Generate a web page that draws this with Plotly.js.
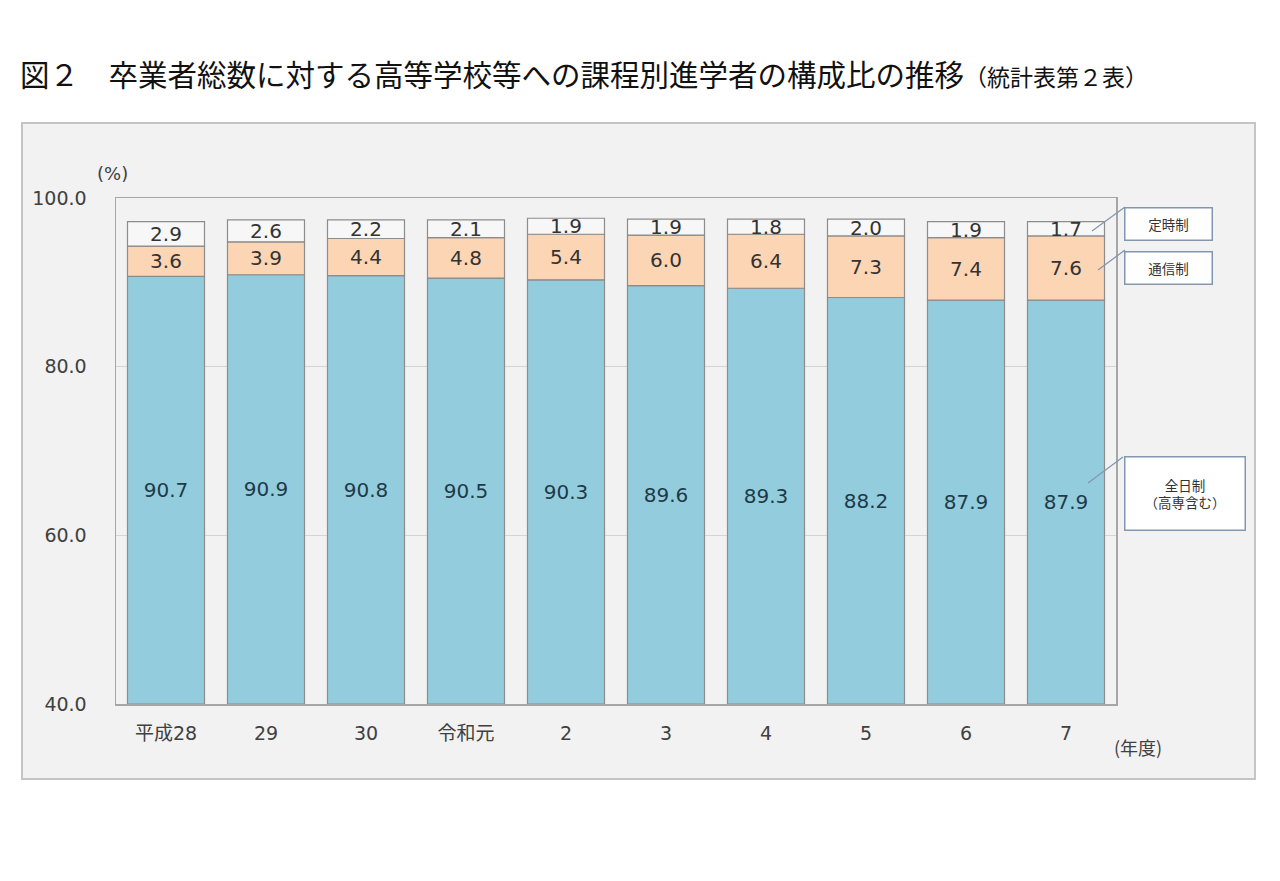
<!DOCTYPE html>
<html>
<head>
<meta charset="utf-8">
<script src="https://cdn.plot.ly/plotly-3.0.1.min.js"></script>
<style>
  html, body { margin: 0; padding: 0; background: #fff; }
  #chart { width: 1280px; height: 881px; }
</style>
</head>
<body>
<div id="chart"></div>
<script>
// 年度
var years = ['平成28', '29', '30', '令和元', '2', '3', '4', '5', '6', '7'];
// 全日制（高専含む）
var zennichi = [90.7, 90.9, 90.8, 90.5, 90.3, 89.6, 89.3, 88.2, 87.9, 87.9];
// 通信制
var tsushin = [3.6, 3.9, 4.4, 4.8, 5.4, 6.0, 6.4, 7.3, 7.4, 7.6];
// 定時制
var teiji = [2.9, 2.6, 2.2, 2.1, 1.9, 1.9, 1.8, 2.0, 1.9, 1.7];

var yTicks = [40, 60, 80, 100];
var FLOOR = 40; // bottom of the y axis, bars start here

var numFont = 'DejaVu Sans, Noto Sans CJK JP, sans-serif';
var jpFont = 'Noto Sans CJK JP, sans-serif';
var barLine = { color: '#8c8c8c', width: 1.2 };

function fmt(v) { return v.toFixed(1); }

// each segment gets its own base so the label sits in the visible part
var base2 = zennichi.slice();
var base3 = zennichi.map(function (v, i) { return v + tsushin[i]; });

var data = [
  {
    type: 'bar', name: '全日制（高専含む）', x: years,
    base: FLOOR, y: zennichi.map(function (v) { return v - FLOOR; }),
    text: zennichi.map(fmt), texttemplate: '%{text}',
    textposition: 'inside', insidetextanchor: 'middle', constraintext: 'none',
    textfont: { family: numFont, size: 20, color: '#1e3a48' },
    marker: { color: '#93cddd', line: barLine }
  },
  {
    type: 'bar', name: '通信制', x: years,
    base: base2, y: tsushin,
    text: tsushin.map(fmt), texttemplate: '%{text}',
    textposition: 'inside', insidetextanchor: 'middle', constraintext: 'none',
    textfont: { family: numFont, size: 20, color: '#333333' },
    marker: { color: '#fcd5b5', line: barLine }
  },
  {
    type: 'bar', name: '定時制', x: years,
    base: base3, y: teiji,
    text: teiji.map(fmt), texttemplate: '%{text}',
    textposition: 'inside', insidetextanchor: 'middle', constraintext: 'none',
    textfont: { family: numFont, size: 20, color: '#333333' },
    marker: { color: '#f7f7f7', line: barLine }
  }
];

// pixel -> paper helpers (plot area is 116..1116 x 198..704)
function px(x) { return (x - 116) / 1000; }
function py(y) { return (704 - y) / 506; }

var boxStyle = {
  xref: 'paper', yref: 'paper', showarrow: false,
  xanchor: 'center', yanchor: 'middle',
  bgcolor: '#ffffff', bordercolor: '#8497b0', borderwidth: 1.5, borderpad: 0,
  font: { family: jpFont, size: 13.5, color: '#333333' }
};

var annotations = [
  Object.assign({}, boxStyle, { text: '定時制', x: px(1168), y: py(223.5), width: 86, height: 31 }),
  Object.assign({}, boxStyle, { text: '通信制', x: px(1168), y: py(268), width: 86, height: 31 }),
  Object.assign({}, boxStyle, { text: '全日制<br>（高専含む）', x: px(1184.5), y: py(493), width: 119, height: 72 }),
  {
    xref: 'paper', yref: 'paper', showarrow: false, text: '(%)',
    xanchor: 'center', yanchor: 'middle',
    x: px(112), y: py(173), font: { family: numFont, size: 18, color: '#404040' }
  },
  {
    xref: 'paper', yref: 'paper', showarrow: false, text: '(年度)',
    xanchor: 'center', yanchor: 'middle',
    x: px(1138), y: py(747), font: { family: jpFont, size: 18, color: '#404040' }
  }
];

function leader(x0, y0, x1, y1) {
  return {
    type: 'line', xref: 'paper', yref: 'paper',
    x0: px(x0), y0: py(y0), x1: px(x1), y1: py(y1),
    line: { color: '#8497b0', width: 1.3 }
  };
}

var shapes = [
  // outer grey frame
  {
    type: 'rect', xref: 'paper', yref: 'paper', layer: 'below',
    x0: px(22), x1: px(1255), y0: py(779), y1: py(123),
    fillcolor: '#f2f2f2', line: { color: '#c4c4c4', width: 2 }
  },
  leader(1092, 231, 1125, 207),
  leader(1098, 270, 1125, 250),
  leader(1088, 483, 1123, 457)
];

var layout = {
  width: 1280, height: 881,
  margin: { l: 116, r: 164, t: 198, b: 177 },
  paper_bgcolor: '#ffffff',
  plot_bgcolor: '#f2f2f2',
  barmode: 'overlay',
  bargap: 0.23,
  showlegend: false,
  title: {
    text: '図２　卒業者総数に対する高等学校等への課程別進学者の構成比の推移<span style="font-size:23px">（統計表第２表）</span>',
    xref: 'container', yref: 'container',
    x: 20 / 1280, xanchor: 'left',
    y: 1 - 76 / 881, yanchor: 'middle',
    font: { family: jpFont, size: 29.5, color: '#111111' }
  },
  xaxis: {
    type: 'category',
    showgrid: false, zeroline: false,
    showline: true, mirror: true, linecolor: '#a6a6a6', linewidth: 1.5,
    ticks: '', ticklabelstandoff: 12,
    tickfont: { family: numFont, size: 19, color: '#404040' }
  },
  yaxis: {
    range: [FLOOR, 100], tickvals: yTicks, tickformat: '.1f',
    showgrid: true, gridcolor: '#d4d4d4', gridwidth: 1,
    zeroline: false,
    showline: true, mirror: true, linecolor: '#a6a6a6', linewidth: 1.5,
    ticks: '', ticklabelstandoff: 24,
    tickfont: { family: numFont, size: 19, color: '#404040' }
  },
  annotations: annotations,
  shapes: shapes
};

Plotly.newPlot('chart', data, layout, { displayModeBar: false, staticPlot: true });
</script>
</body>
</html>
